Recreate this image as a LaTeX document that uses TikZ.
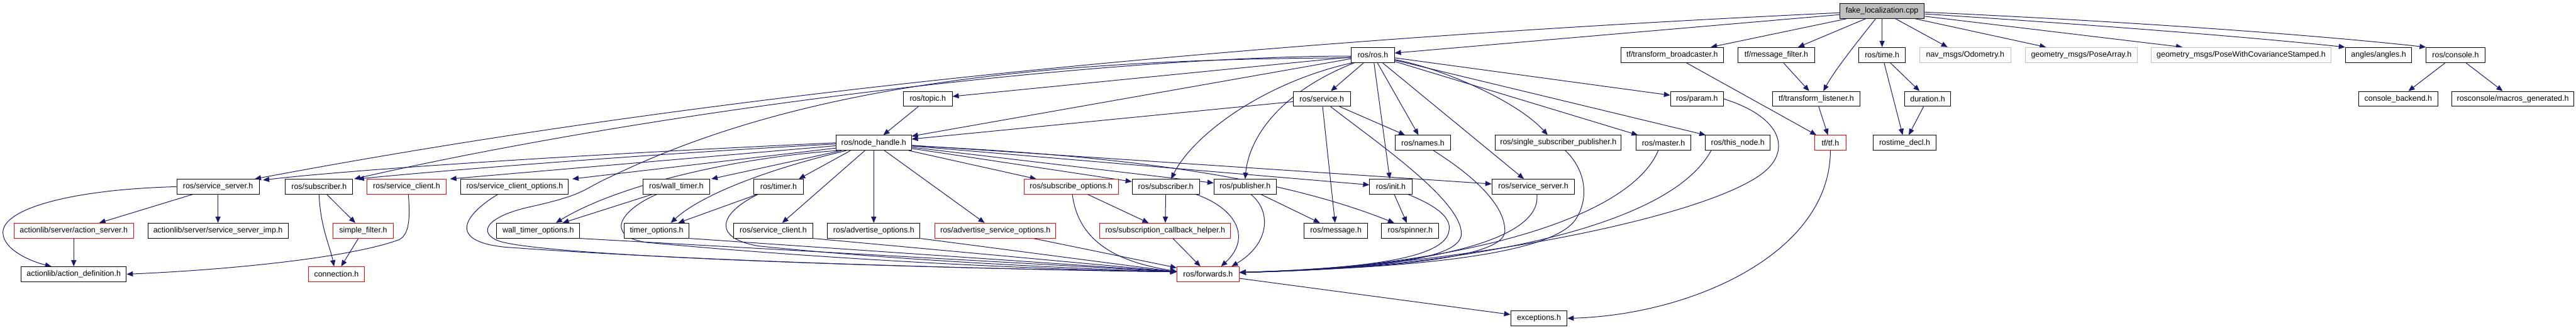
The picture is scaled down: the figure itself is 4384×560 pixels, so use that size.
\documentclass[tikz,border=0pt]{standalone}
\usepackage{fontspec}
\setmainfont{Liberation Sans}
\usetikzlibrary{arrows.meta,calc,backgrounds}
\definecolor{edgec}{HTML}{191970}
\definecolor{grayb}{HTML}{BFBFBF}
\newcommand\bx[5]{\node[#1,minimum width=#4*0.75pt] (#2) at (#3) {#5};}
\begin{document}
\begin{tikzpicture}[x=0.75pt,y=-0.75pt,
 box/.style={draw=black,fill=white,line width=0.8pt,inner sep=0pt,minimum height=19pt,font=\fontsize{10}{12}\selectfont},
 rbox/.style={box,draw=red},
 gbox/.style={box,draw=grayb},
 e/.style={draw=edgec,line width=0.8pt,-{Triangle[length=8pt,width=6.5pt]}}]
\useasboundingbox (0,0) rectangle (4384,560);
% row 0
\bx{box,fill=grayb}{F}{3203,18.7}{144}{fake\_localization.cpp}
% row 1
\bx{box}{ros}{2336.5,93.3}{73}{ros/ros.h}
\bx{box}{TB}{2845.7,93.3}{174.5}{tf/transform\_broadcaster.h}
\bx{box}{MF}{3023,93.3}{131}{tf/message\_filter.h}
\bx{box}{TIME}{3203,93.3}{80}{ros/time.h}
\bx{gbox}{ODO}{3344.5,93.3}{155}{nav\_msgs/Odometry.h}
\bx{gbox}{PA}{3542,93.3}{190}{geometry\_msgs/PoseArray.h}
\bx{gbox}{PWCS}{3814,93.3}{306}{geometry\_msgs/PoseWithCovarianceStamped.h}
\bx{box}{ANG}{4048,93.3}{113}{angles/angles.h}
\bx{box}{CON}{4179,93.3}{100}{ros/console.h}
% row 2
\bx{box}{TOPIC}{1579,168}{83}{ros/topic.h}
\bx{box}{SRV}{2249.5,168}{97}{ros/service.h}
\bx{box}{PARAM}{2888,168}{90}{ros/param.h}
\bx{box}{TL}{3091,168}{149.5}{tf/transform\_listener.h}
\bx{box}{DUR}{3280.5,168}{79}{duration.h}
\bx{box}{CB}{4081.5,168}{135}{console\_backend.h}
\bx{box}{MG}{4276.5,168}{207}{rosconsole/macros\_generated.h}
% row 3
\bx{box}{NH}{1487,242.7}{128}{ros/node\_handle.h}
\bx{box}{NAMES}{2421.5,242.7}{95}{ros/names.h}
\bx{box}{SSP}{2652,242.7}{214}{ros/single\_subscriber\_publisher.h}
\bx{box}{MASTER}{2831,242.7}{94}{ros/master.h}
\bx{box}{THIS}{2957.5,242.7}{110}{ros/this\_node.h}
\bx{rbox}{TF}{3115,242.7}{53}{tf/tf.h}
\bx{box}{RTD}{3241.5,242.7}{107}{rostime\_decl.h}
% row 4
\bx{box}{SSL}{371,317.3}{140}{ros/service\_server.h}
\bx{box}{SUBL}{543,317.3}{114.5}{ros/subscriber.h}
\bx{rbox}{SCR}{692,317.3}{135}{ros/service\_client.h}
\bx{box}{SCO}{876,317.3}{183}{ros/service\_client\_options.h}
\bx{box}{WT}{1151,317.3}{114}{ros/wall\_timer.h}
\bx{box}{TIMER}{1325,317.3}{84}{ros/timer.h}
\bx{rbox}{SUBO}{1823,317.3}{160}{ros/subscribe\_options.h}
\bx{box}{SUBR}{1984,317.3}{114.5}{ros/subscriber.h}
\bx{box}{PUB}{2119,317.3}{106}{ros/publisher.h}
\bx{box}{INIT}{2367,317.3}{72}{ros/init.h}
\bx{box}{SSR}{2609.5,317.3}{141}{ros/service\_server.h}
% row 5
\bx{rbox}{AS}{125.5,392}{203}{actionlib/server/action\_server.h}
\bx{box}{SSI}{371,392}{238.5}{actionlib/server/service\_server\_imp.h}
\bx{rbox}{SF}{618,392}{103.5}{simple\_filter.h}
\bx{box}{WTO}{916,392}{141}{wall\_timer\_options.h}
\bx{box}{TO}{1117.5,392}{111}{timer\_options.h}
\bx{box}{SC}{1316,392}{135}{ros/service\_client.h}
\bx{box}{AO}{1487,392}{157.5}{ros/advertise\_options.h}
\bx{rbox}{ASO}{1694,392}{206}{ros/advertise\_service\_options.h}
\bx{rbox}{SCH}{1983,392}{223}{ros/subscription\_callback\_helper.h}
\bx{box}{MSG}{2273.5,392}{108}{ros/message.h}
\bx{box}{SPIN}{2400,392}{97.5}{ros/spinner.h}
% row 6
\bx{box}{AD}{125.5,466}{179}{actionlib/action\_definition.h}
\bx{rbox}{CONN}{572.5,466}{96}{connection.h}
\bx{rbox}{FWD}{2056,466}{106}{ros/forwards.h}
% row 7
\bx{box}{EXC}{2619,541}{96}{exceptions.h}

\begin{pgfonlayer}{background}
% from fake_localization.cpp
\draw[e] ($(F.west)+(0,3)$) .. controls (2100,70) and (1200,160) .. ($(SSL.north east)+(-8,0)$);
\draw[e] (F) -- (ros);
\draw[e] ($(F.south west)+(12,0)$) -- ($(TB.north east)+(-22,0)$);
\draw[e] ($(F.south)+(-28,0)$) -- ($(MF.north)+(37,0)$);
\draw[e] ($(F.south)+(-11,0)$) .. controls (3170,60) and (3125,115) .. ($(TL.north)+(12,0)$);
\draw[e] (F) -- (TIME);
\draw[e] ($(F.south)+(23,0)$) -- ($(ODO.north)+(-30,0)$);
\draw[e] ($(F.south east)+(-16,0)$) -- ($(PA.north)+(-60,0)$);
\draw[e] ($(F.east)+(0,9)$) -- ($(PWCS.north)+(-100,0)$);
\draw[e] ($(F.east)+(0,5)$) .. controls (3500,38) and (3800,60) .. (ANG.north west);
\draw[e] ($(F.east)+(0,2)$) .. controls (3550,33) and (3900,55) .. (CON.north west);
% from ros/ros.h
\draw[e] ($(ros.west)+(0,2)$) .. controls (1900,95) and (1150,180) .. ($(SUBL.north east)+(2,0)$);
\draw[e] ($(ros.west)+(0,5)$) .. controls (1750,100) and (1350,150) .. (1040,300) .. controls (990,322) and (1000,330) .. (900,352) .. controls (830,368) and (810,395) .. (850,410) .. controls (950,440) and (1700,458) .. ($(FWD.west)+(0,-4)$);
\draw[e] (ros) -- (TOPIC);
\draw[e] (ros) -- (NH);
\draw[e] (ros) -- (SRV);
\draw[e] (ros) -- (NAMES);
\draw[e] (ros) -- (INIT);
\draw[e] (ros) -- (SSR);
\draw[e] ($(ros.east)+(0,8)$) .. controls (2450,115) and (2580,170) .. ($(SSP.north)+(-18,0)$);
\draw[e] (ros) -- (MASTER);
\draw[e] (ros) -- (THIS);
\draw[e] (ros) -- (PARAM);
\draw[e] ($(ros.south west)+(3,0)$) .. controls (2150,140) and (2030,230) .. ($(SUBR.north)+(9,0)$);
\draw[e] ($(ros.south west)+(6,0)$) .. controls (2170,160) and (2125,240) .. (PUB.north);
% tf / time / console
\draw[e] (TB) -- (TF);
\draw[e] (MF) -- (TL);
\draw[e] (TIME) -- (DUR);
\draw[e] (TIME) -- (RTD);
\draw[e] (DUR) -- (RTD);
\draw[e] (TL) -- (TF);
\draw[e] (CON) -- (CB);
\draw[e] (CON) -- (MG);
\draw[e] (TF.south) .. controls (3115,430) and (2880,535) .. (EXC.east);
% service / topic
\draw[e] (SRV) -- (NAMES);
\draw[e] (SRV) -- (MSG);
\draw[e] (SRV) -- (NH);
\draw[e] (TOPIC) -- (NH);
% into forwards from the right
\draw[e] ($(SRV.south)+(15,0)$) .. controls (2340,240) and (2487,340) .. (2487,397) .. controls (2487,440) and (2350,456) .. ($(FWD.east)+(0,-3)$);
\draw[e] ($(NAMES.south)+(18,0)$) .. controls (2510,300) and (2562,350) .. (2561,393) .. controls (2560,440) and (2350,456) .. ($(FWD.east)+(0,-3)$);
\draw[e] ($(SSP.south)+(12,0)$) .. controls (2700,290) and (2705,340) .. (2680,375) .. controls (2630,440) and (2350,456) .. ($(FWD.east)+(0,-3)$);
\draw[e] ($(MASTER.south)+(-9,0)$) .. controls (2770,380) and (2450,456) .. ($(FWD.east)+(0,-3)$);
\draw[e] ($(THIS.south west)+(10,0)$) .. controls (2840,390) and (2480,456) .. ($(FWD.east)+(0,-3)$);
\draw[e] (PARAM.east) .. controls (3035,200) and (3045,255) .. (3005,290) .. controls (2920,365) and (2500,452) .. ($(FWD.east)+(0,-3)$);
\draw[e] ($(INIT.south east)+(-7,0)$) .. controls (2450,352) and (2470,372) .. (2466,392) .. controls (2460,440) and (2320,456) .. ($(FWD.east)+(0,-3)$);
\draw[e] ($(SSR.south)+(6,0)$) .. controls (2625,410) and (2420,456) .. ($(FWD.east)+(0,-3)$);
\draw[e] (INIT) -- (SPIN);
\draw[e] (FWD) -- (EXC);
% publisher / subscriber
\draw[e] (PUB) -- (MSG);
\draw[e] ($(PUB.south)+(10,0)$) .. controls (2165,360) and (2160,415) .. ($(FWD.north)+(40,0)$);
\draw[e] (SUBR) -- (SCH);
\draw[e] ($(SUBR.south east)+(-6,0)$) .. controls (2105,355) and (2130,405) .. ($(FWD.north)+(22,0)$);
\draw[e] (SUBO) -- (SCH);
\draw[e] ($(SUBO.south)+(2,0)$) .. controls (1835,410) and (1900,445) .. ($(FWD.west)+(0,-5)$);
\draw[e] (SCH) -- (FWD);
% from node_handle
\draw[e] (NH) -- (SUBO);
\draw[e] (NH) -- (SUBR);
\draw[e] (NH) -- (PUB);
\draw[e] (NH) -- (AO);
\draw[e] (NH) -- (ASO);
\draw[e] (NH) -- (INIT);
\draw[e] (NH) -- (SSR);
\draw[e] ($(NH.east)+(0,5)$) .. controls (1850,262) and (2150,290) .. ($(SPIN.north west)+(22,0)$);
\draw[e] (NH.west) .. controls (1000,262) and (600,288) .. ($(SSL.north east)+(6,2)$);
\draw[e] ($(NH.west)+(0,2)$) .. controls (1100,262) and (750,290) .. ($(SUBL.north east)+(8,0)$);
\draw[e] ($(NH.west)+(0,5)$) -- ($(SCR.north east)+(6,0)$);
\draw[e] ($(NH.west)+(0,9)$) -- ($(SCO.north east)+(6,0)$);
\draw[e] ($(NH.south west)+(10,0)$) -- ($(WT.north east)+(2,0)$);
\draw[e] ($(NH.south west)+(25,0)$) -- ($(TIMER.north east)+(-8,0)$);
\draw[e] (NH) -- (SC);
\draw[e] ($(NH.south west)+(18,0)$) .. controls (1330,282) and (1200,325) .. ($(TO.north)+(24,0)$);
\draw[e] ($(NH.south west)+(4,0)$) .. controls (1250,268) and (1050,315) .. ($(WTO.north)+(30,0)$);
% into forwards from the left
\draw[e] ($(SCO.south west)+(63,0)$) .. controls (790,365) and (760,410) .. (860,420) .. controls (1200,445) and (1700,458) .. ($(FWD.west)+(0,-4)$);
\draw[e] (WT) -- (WTO);
\draw[e] ($(WT.south west)+(24,0)$) .. controls (1060,355) and (1025,400) .. (1100,412) .. controls (1400,440) and (1750,458) .. ($(FWD.west)+(0,-4)$);
\draw[e] (TIMER) -- (TO);
\draw[e] ($(TIMER.south west)+(7,0)$) .. controls (1220,365) and (1215,405) .. (1290,418) .. controls (1500,440) and (1800,456) .. ($(FWD.west)+(0,-4)$);
\draw[e] (WTO.south east) -- ($(FWD.west)+(0,-4)$);
\draw[e] (TO.south east) -- ($(FWD.west)+(0,-4)$);
\draw[e] (SC.south east) -- ($(FWD.west)+(0,-4)$);
\draw[e] (AO.south east) -- ($(FWD.west)+(0,-4)$);
\draw[e] (ASO) -- (FWD);
% left part
\draw[e] (SSL) -- (AS);
\draw[e] (SSL) -- (SSI);
\draw[e] (SSL.west) .. controls (120,322) and (5,355) .. (5,395) .. controls (5,425) and (55,445) .. ($(AD.north west)+(52,0)$);
\draw[e] (AS) -- (AD);
\draw[e] (SUBL) -- (SF);
\draw[e] (SUBL.south) .. controls (545,385) and (562,420) .. ($(CONN.north)+(-4,0)$);
\draw[e] (SF) -- (CONN);
\draw[e] ($(SCR.south)+(3,0)$) .. controls (698,370) and (697,397) .. (680,407) .. controls (600,437) and (400,458) .. (AD.east);
\end{pgfonlayer}
\end{tikzpicture}
\end{document}
